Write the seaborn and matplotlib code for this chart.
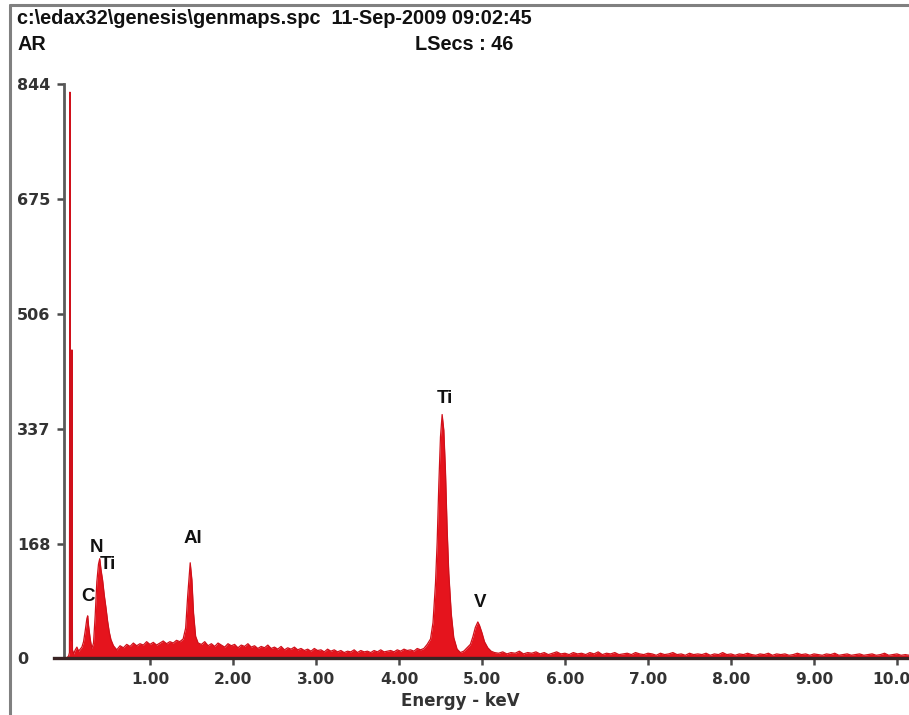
import numpy as np
import pandas as pd
import matplotlib
matplotlib.use("Agg")
import matplotlib.pyplot as plt
import seaborn as sns
from matplotlib.lines import Line2D

# ---------------- data ----------------
low_energy = [0.000, 0.020, 0.030, 0.036, 0.044, 0.054, 0.060, 0.066, 0.080, 0.100,
              0.120, 0.140, 0.160, 0.180, 0.200, 0.220, 0.240, 0.250, 0.260, 0.280,
              0.300, 0.320, 0.340, 0.360, 0.380, 0.395, 0.410, 0.430, 0.450, 0.470,
              0.490, 0.510, 0.530, 0.560]
low_counts = [0, 3, 8, 832, 30, 25, 453, 12, 6, 12,
              16, 10, 13, 16, 24, 40, 58, 62, 48, 28,
              14, 22, 62, 112, 138, 146, 130, 114, 92, 74,
              54, 38, 27, 18]

bg1_energy = [0.60, 0.64, 0.68, 0.72, 0.76, 0.80, 0.84, 0.88, 0.92, 0.96,
              1.00, 1.04, 1.08, 1.12, 1.16, 1.20, 1.24, 1.28, 1.32, 1.36]
bg1_counts = [12, 18, 15, 20, 17, 22, 18, 21, 19, 24,
              20, 23, 19, 22, 25, 21, 24, 22, 26, 24]

al_energy = [1.40, 1.43, 1.455, 1.485, 1.505, 1.525, 1.55, 1.58]
al_counts = [28, 44, 92, 140, 115, 66, 32, 22]

bg2_energy = [1.62, 1.66, 1.70, 1.74, 1.78, 1.82, 1.86, 1.90, 1.94, 1.98,
              2.02, 2.06, 2.10, 2.14, 2.18, 2.22, 2.26, 2.30, 2.34, 2.38,
              2.42, 2.46, 2.50, 2.54, 2.58, 2.62, 2.66, 2.70, 2.74, 2.78,
              2.82, 2.86, 2.90, 2.94, 2.98, 3.02, 3.06, 3.10, 3.14, 3.18,
              3.22, 3.26, 3.30, 3.34, 3.38, 3.42, 3.46, 3.50, 3.54, 3.58,
              3.62, 3.66, 3.70, 3.74, 3.78, 3.82, 3.86, 3.90, 3.94, 3.98,
              4.02, 4.06, 4.10, 4.14, 4.18, 4.22, 4.26]
bg2_counts = [20, 24, 18, 21, 17, 22, 19, 16, 21, 18,
              20, 15, 19, 17, 21, 16, 18, 14, 17, 15,
              19, 14, 16, 13, 17, 12, 15, 13, 16, 12,
              14, 11, 13, 10, 14, 11, 12, 9, 13, 10,
              12, 9, 11, 8, 10, 9, 12, 8, 11, 9,
              10, 8, 11, 9, 12, 9, 10, 11, 9, 12,
              10, 13, 11, 12, 10, 14, 12]

ti_v_energy = [4.30, 4.34, 4.38, 4.41, 4.44, 4.46, 4.48, 4.50, 4.52, 4.54,
               4.56, 4.58, 4.60, 4.63, 4.66, 4.70, 4.74, 4.78, 4.82, 4.86,
               4.89, 4.92, 4.95, 4.97, 5.00, 5.03, 5.07, 5.11, 5.15]
ti_v_counts = [14, 20, 28, 52, 110, 170, 255, 325, 358, 335,
               275, 190, 125, 65, 30, 13, 8, 10, 15, 20,
               31, 45, 53, 48, 37, 24, 15, 10, 8]

tail_energy = [5.20, 5.25, 5.30, 5.35, 5.40, 5.45, 5.50, 5.55, 5.60, 5.65,
               5.70, 5.75, 5.80, 5.85, 5.90, 5.95, 6.00, 6.05, 6.10, 6.15,
               6.20, 6.25, 6.30, 6.35, 6.40, 6.45, 6.50, 6.55, 6.60, 6.65,
               6.70, 6.75, 6.80, 6.85, 6.90, 6.95, 7.00, 7.05, 7.10, 7.15,
               7.20, 7.25, 7.30, 7.35, 7.40, 7.45, 7.50, 7.55, 7.60, 7.65,
               7.70, 7.75, 7.80, 7.85, 7.90, 7.95, 8.00, 8.05, 8.10, 8.15,
               8.20, 8.25, 8.30, 8.35, 8.40, 8.45, 8.50, 8.55, 8.60, 8.65,
               8.70, 8.75, 8.80, 8.85, 8.90, 8.95, 9.00, 9.05, 9.10, 9.15,
               9.20, 9.25, 9.30, 9.35, 9.40, 9.45, 9.50, 9.55, 9.60, 9.65,
               9.70, 9.75, 9.80, 9.85, 9.90, 9.95, 10.00, 10.05, 10.10, 10.15,
               10.20]
tail_counts = [7, 9, 6, 8, 7, 10, 6, 8, 7, 9,
               6, 8, 5, 7, 9, 6, 7, 5, 8, 6,
               7, 5, 8, 6, 9, 5, 7, 6, 8, 5,
               6, 7, 5, 8, 6, 5, 7, 6, 4, 7,
               5, 6, 8, 5, 6, 4, 7, 5, 6, 5,
               7, 4, 6, 5, 8, 5, 6, 4, 6, 5,
               7, 5, 4, 6, 5, 7, 4, 6, 5, 6,
               4, 5, 7, 5, 6, 4, 6, 5, 4, 6,
               5, 7, 4, 5, 6, 4, 5, 6, 4, 5,
               6, 4, 5, 7, 4, 5, 6, 4, 5, 4,
               5]

energy_kev = low_energy + bg1_energy + al_energy + bg2_energy + ti_v_energy + tail_energy
counts = low_counts + bg1_counts + al_counts + bg2_counts + ti_v_counts + tail_counts

y_ticks = [0, 168, 337, 506, 675, 844]
x_ticks = [1, 2, 3, 4, 5, 6, 7, 8, 9, 10]
x_tick_labels = ["1.00", "2.00", "3.00", "4.00", "5.00", "6.00", "7.00", "8.00", "9.00", "10.00"]

peak_labels = ["C", "N", "Ti", "Al", "Ti", "V"]
peak_label_energy = [0.25, 0.35, 0.49, 1.52, 4.55, 4.98]
peak_label_counts = [90, 162, 138, 175, 381, 81]

header_file = "c:\\edax32\\genesis\\genmaps.spc  11-Sep-2009 09:02:45"
header_label = "AR"
header_lsecs = "LSecs : 46"
x_title = "Energy - keV"

# ---------------- figure ----------------
sns.set_style("white")
plt.rcParams["font.family"] = ["Liberation Sans", "DejaVu Sans"]

W, H = 909, 715
fig = plt.figure(figsize=(W / 100, H / 100), dpi=100)
fig.patch.set_facecolor("white")

x0_px, xaxis_px, top_px = 54.5, 658, 84
ax = fig.add_axes([x0_px / W, (H - xaxis_px) / H, (W - x0_px) / W, (xaxis_px - top_px) / H])
ax.set_facecolor("white")

df = pd.DataFrame({"energy": energy_kev, "counts": counts})
red = "#e5141d"
ax.fill_between(df["energy"], 0, df["counts"], color=red, lw=0, zorder=1)
sns.lineplot(data=df, x="energy", y="counts", ax=ax, color="#d0101a", lw=0.9,
             zorder=2, estimator=None, sort=True)

ax.set_xlim(-0.15, (W - 67) / 83)
ax.set_ylim(0, 844)

for s in ["top", "right"]:
    ax.spines[s].set_visible(False)
ax.spines["left"].set_position(("data", -0.035))
ax.spines["left"].set_color("#5a5a5a")
ax.spines["left"].set_linewidth(2.0)
ax.spines["bottom"].set_color("#3a2424")
ax.spines["bottom"].set_linewidth(2.4)
ax.spines["bottom"].set_zorder(3)

ax.set_yticks(y_ticks)
ax.set_yticklabels([str(v) for v in y_ticks])
ax.set_xticks(x_ticks)
ax.set_xticklabels(x_tick_labels)
ax.tick_params(axis="y", direction="out", length=5, width=1.8, color="#4a4a4a",
               pad=28.8, labelsize=11.5, labelcolor="#333333", left=True)
ax.tick_params(axis="x", direction="out", length=5, width=1.8, color="#4a4a4a",
               pad=5.0, labelsize=11.2, labelcolor="#333333", bottom=True)
for lab in ax.get_yticklabels():
    lab.set_horizontalalignment("left")
    lab.set_fontfamily("DejaVu Sans")
    lab.set_fontweight("bold")
for lab in ax.get_xticklabels():
    lab.set_fontfamily("DejaVu Sans")
    lab.set_fontweight("bold")
ax.set_xlabel("")
ax.set_ylabel("")

for name, e, c in zip(peak_labels, peak_label_energy, peak_label_counts):
    ax.text(e, c, name, ha="center", va="center", fontsize=13.5, fontweight="bold",
            color="#111111", zorder=4)

fig.text(460 / W, 1 - 701 / H, x_title, ha="center", va="center", fontsize=12,
         fontweight="bold", color="#333333", family="DejaVu Sans")

fig.text(17 / W, 1 - 18 / H, header_file, ha="left", va="center", fontsize=14.3,
         fontweight="bold", color="#111111")
fig.text(17 / W, 1 - 45 / H, header_label, ha="left", va="center", fontsize=14.3,
         fontweight="bold", color="#111111")
fig.text(415 / W, 1 - 45 / H, header_lsecs, ha="left", va="center", fontsize=14.3,
         fontweight="bold", color="#111111")

# outer window frame
fig.add_artist(Line2D([10 / W, 10 / W], [0, 1 - 5 / H], transform=fig.transFigure,
                      color="#808080", lw=2.2))
fig.add_artist(Line2D([10 / W, 1], [1 - 5 / H, 1 - 5 / H], transform=fig.transFigure,
                      color="#808080", lw=2.2))

fig.savefig("out.png", dpi=100, facecolor="white")
